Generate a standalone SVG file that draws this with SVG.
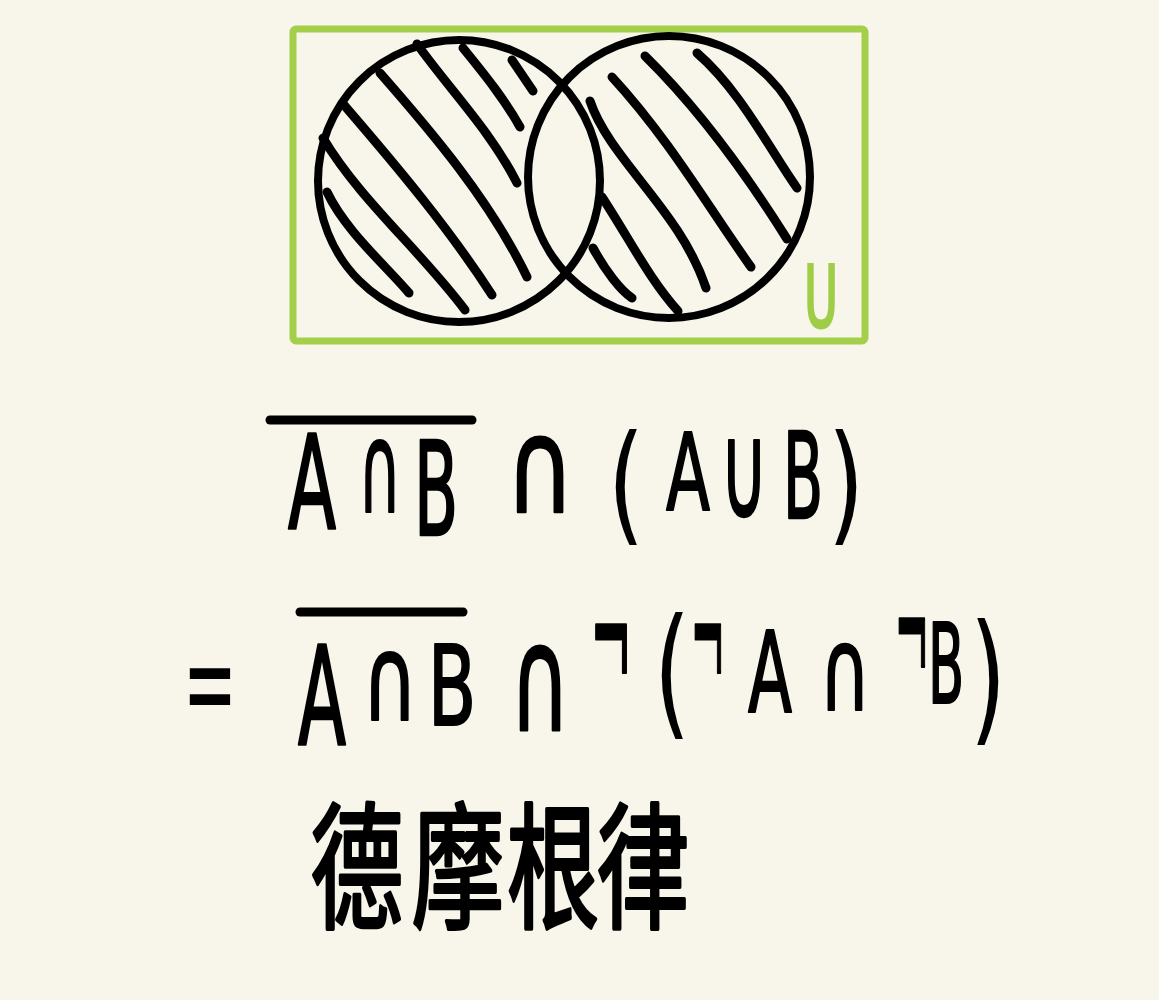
<svg xmlns="http://www.w3.org/2000/svg" width="1159" height="1000" viewBox="0 0 1159 1000">
<style>
.bg{fill:#f8f5ea}
.circ{fill:none;stroke:#000;stroke-width:8}
.hatch{fill:none;stroke:#000;stroke-width:9;stroke-linecap:round;stroke-linejoin:round}
.bar{stroke:#000;stroke-width:9;stroke-linecap:round}
.hw{font-family:"DejaVu Sans Condensed","DejaVu Sans",sans-serif;font-size:130px;fill:#000;stroke:#000;stroke-width:2.5;stroke-linejoin:round;text-anchor:middle}
.thin{stroke-width:0}
.cjk{font-family:"Noto Sans CJK SC","Noto Sans CJK TC",sans-serif;font-size:105px;font-weight:400;fill:#000;stroke:#000;stroke-width:3;stroke-linejoin:round;text-anchor:middle}
.u{font-family:"DejaVu Sans Condensed","DejaVu Sans",sans-serif;font-size:85px;fill:#9fcd47;stroke:#9fcd47;stroke-width:3;text-anchor:middle}
</style>
<rect class="bg" x="0" y="0" width="1159" height="1000"/>
<g id="universe">
<rect x="293" y="29" width="572" height="312" rx="3" fill="none" stroke="#a3cf4a" stroke-width="7"/>
<text class="u" transform="translate(821,327) scale(0.6,1)">U</text>
</g>
<g id="setA">
<circle class="circ" cx="459" cy="181" r="141"/>
<path class="hatch" d="M327,192 C345,230 385,265 409,293"/>
<path class="hatch" d="M323,138 C360,200 420,250 465,310"/>
<path class="hatch" d="M344,105 C400,170 450,230 492,295"/>
<path class="hatch" d="M380,73 C430,130 490,200 527,277"/>
<path class="hatch" d="M417,44 C450,90 490,130 517,183"/>
<path class="hatch" d="M463,48 C485,75 505,100 520,127"/>
<path class="hatch" d="M512,60 L533,91"/>
</g>
<g id="setB">
<circle class="circ" cx="669" cy="177" r="141"/>
<path class="hatch" d="M590,101 C610,160 680,210 706,288"/>
<path class="hatch" d="M602,197 C630,240 650,280 678,311"/>
<path class="hatch" d="M593,248 C605,270 620,290 632,298"/>
<path class="hatch" d="M612,77 C670,140 710,210 751,267"/>
<path class="hatch" d="M645,56 C700,110 750,180 787,239"/>
<path class="hatch" d="M697,53 C740,90 770,150 797,188"/>
</g>
<g id="formula1">
<line class="bar" x1="270" y1="420" x2="472" y2="420"/>
<text class="hw" transform="translate(312,528) scale(0.6,1)">A</text>
<text class="hw" transform="translate(380,512) scale(0.5,0.95)">∩</text>
<text class="hw" transform="translate(436,535) scale(0.55,1)">B</text>
<text class="hw" transform="translate(540,512) scale(0.8,1)">∩</text>
<text class="hw thin" transform="translate(626,528) scale(0.8,1)">(</text>
<text class="hw" transform="translate(688,510) scale(0.55,0.82)">A</text>
<text class="hw" transform="translate(744,517) scale(0.55,1.02)">∪</text>
<text class="hw" transform="translate(803,518) scale(0.5,0.92)">B</text>
<text class="hw thin" transform="translate(846,528) scale(0.8,1)">)</text>
</g>
<g id="formula2">
<text class="hw thin" transform="translate(210,727) scale(0.55,1)">=</text>
<line class="bar" x1="300" y1="612" x2="463" y2="612"/>
<text class="hw" transform="translate(322,745) scale(0.6,1.05)">A</text>
<text class="hw" transform="translate(390,720) scale(0.65,0.9)">∩</text>
<text class="hw" transform="translate(452,725) scale(0.6,0.85)">B</text>
<text class="hw" transform="translate(540,730) scale(0.7,1.12)">∩</text>
<text class="hw" transform="translate(611,696) scale(0.42,1.3)">¬</text>
<text class="hw thin" transform="translate(672,721) scale(0.8,1.1)">(</text>
<text class="hw" transform="translate(708,696) scale(0.35,1.3)">¬</text>
<text class="hw" transform="translate(770,712) scale(0.55,0.87)">A</text>
<text class="hw" transform="translate(845,710) scale(0.6,0.88)">∩</text>
<text class="hw" transform="translate(912,690) scale(0.35,1.3)">¬</text>
<text class="hw" transform="translate(946,703) scale(0.45,0.85)">B</text>
<text class="hw thin" transform="translate(988,727) scale(0.8,1.1)">)</text>
</g>
<g id="caption">
<text class="cjk" transform="translate(357,918) scale(0.88,1.3)">德</text>
<text class="cjk" transform="translate(458,918) scale(0.88,1.3)">摩</text>
<text class="cjk" transform="translate(553,918) scale(0.88,1.3)">根</text>
<text class="cjk" transform="translate(643,918) scale(0.88,1.3)">律</text>
</g>
</svg>
